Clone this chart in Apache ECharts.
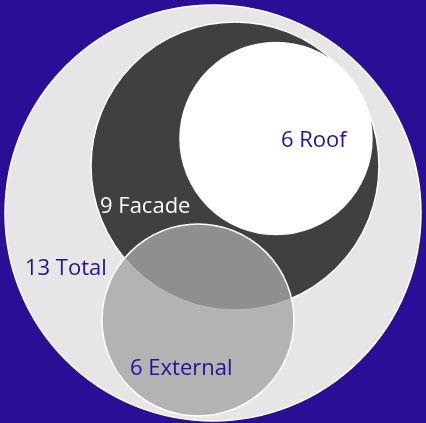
<!DOCTYPE html>
<html>
<head>
<meta charset="utf-8">
<script src="https://cdn.jsdelivr.net/npm/echarts@6/dist/echarts.min.js"></script>
<style>
  html, body { margin: 0; padding: 0; background: #2a0f96; }
  #chart { width: 426px; height: 423px; }
</style>
</head>
<body>
<div id="chart"></div>
<script>
// venn sets, drawn back to front
const setNames = ['Total', 'Facade', 'Roof', 'External']
const setCounts = [13, 9, 6, 6]
// circle centres in chart units (x right, y down)
const centerX = [213, 235, 276, 198]
const centerY = [213, 166, 138.5, 320]
// label anchors (left edge, middle) in chart units
const labelX = [25, 100, 281, 130]
const labelY = [269, 207, 141, 369]

const UNIT = 16 // chart units of radius per item
const fills = ['#e6e6e6', '#404040', '#ffffff', 'rgba(165,165,165,0.79)']
const textColors = ['#2a0f96', '#ffffff', '#2a0f96', '#2a0f96']

const chart = echarts.init(document.getElementById('chart'))

const data = setNames.map((name, i) => [centerX[i], centerY[i], setCounts[i], labelX[i], labelY[i], i])

chart.setOption({
  backgroundColor: '#2a0f96',
  animation: false,
  grid: { left: 0, right: 0, top: 0, bottom: 0 },
  xAxis: { type: 'value', min: 0, max: 426, show: false },
  yAxis: { type: 'value', min: 0, max: 423, inverse: true, show: false },
  series: [{
    type: 'custom',
    coordinateSystem: 'cartesian2d',
    data: data,
    renderItem: function (params, api) {
      const i = api.value(5)
      const c = api.coord([api.value(0), api.value(1)])
      const r = api.size([api.value(2) * UNIT, 0])[0]
      return {
        type: 'circle',
        shape: { cx: c[0], cy: c[1], r: r },
        style: { fill: fills[i], stroke: '#ffffff', lineWidth: 1.5 }
      }
    }
  }, {
    type: 'custom',
    coordinateSystem: 'cartesian2d',
    z: 5,
    data: data,
    renderItem: function (params, api) {
      const i = api.value(5)
      const p = api.coord([api.value(3), api.value(4)])
      return {
        type: 'text',
        x: p[0],
        y: p[1],
        style: {
          text: setCounts[i] + ' ' + setNames[i],
          fill: textColors[i],
          font: '22px "Open Sans"',
          align: 'left',
          verticalAlign: 'middle'
        }
      }
    }
  }]
})
</script>
</body>
</html>
